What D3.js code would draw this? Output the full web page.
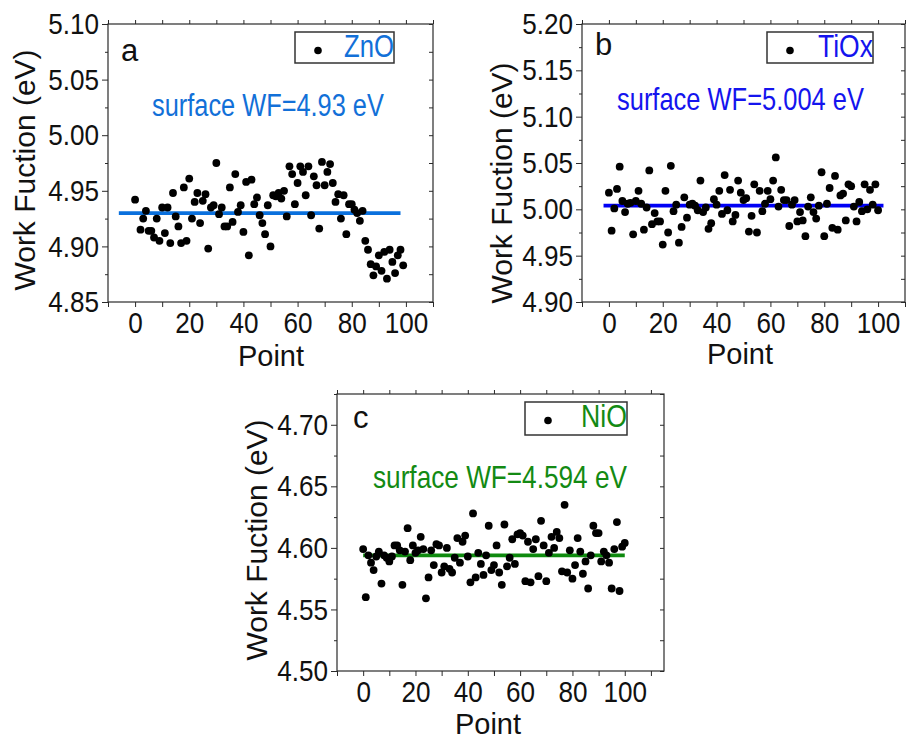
<!DOCTYPE html>
<html>
<head>
<meta charset="utf-8">
<script src="https://cdn.jsdelivr.net/npm/d3@7/dist/d3.min.js"></script>
<style>
  html, body { margin: 0; padding: 0; background: #fff; }
  svg { display: block; }
  text { font-family: "Liberation Sans", Arial, Helvetica, sans-serif; }
</style>
</head>
<body>
<svg id="fig" width="906" height="740"></svg>
<script>
// Work function maps: one reading per measurement point
// ZnO (point 1 not recorded)
const znoWF = [4.942, null, 4.915, 4.925, 4.932, 4.914, 4.914, 4.908, 4.925, 4.905,
  4.935, 4.912, 4.935, 4.903, 4.948, 4.927, 4.918, 4.903, 4.953, 4.905,
  4.961, 4.925, 4.940, 4.948, 4.921, 4.941, 4.947, 4.898, 4.935, 4.937,
  4.975, 4.929, 4.935, 4.918, 4.918, 4.953, 4.922, 4.965, 4.931, 4.937,
  4.913, 4.958, 4.892, 4.960, 4.938, 4.944, 4.928, 4.921, 4.911, 4.937,
  4.900, 4.946, 4.945, 4.948, 4.943, 4.950, 4.927, 4.972, 4.965, 4.938,
  4.957, 4.972, 4.967, 4.946, 4.972, 4.928, 4.963, 4.955, 4.916, 4.976,
  4.955, 4.967, 4.974, 4.957, 4.940, 4.947, 4.925, 4.946, 4.911, 4.938,
  4.938, 4.933, 4.930, 4.923, 4.932, 4.905, 4.897, 4.884, 4.874, 4.882,
  4.892, 4.878, 4.895, 4.871, 4.897, 4.886, 4.876, 4.892, 4.897, 4.883];

const tioxWF = [5.018, 4.977, 5.001, 5.022, 5.046, 5.009, 4.997, 5.006, 5.007, 4.973,
  5.009, 5.020, 5.006, 4.978, 5.002, 5.042, 4.984, 4.996, 4.987, 4.987,
  4.962, 5.020, 4.975, 5.047, 4.998, 5.005, 4.964, 4.981, 5.013, 4.991,
  5.005, 5.006, 5.004, 4.999, 5.031, 4.997, 5.002, 4.979, 4.985, 5.011,
  5.005, 5.020, 4.995, 5.037, 4.999, 5.021, 4.987, 4.994, 5.031, 5.018,
  5.010, 5.012, 4.976, 4.993, 5.027, 4.975, 5.020, 4.998, 5.006, 5.020,
  5.011, 5.031, 5.056, 5.003, 5.021, 5.010, 5.010, 4.982, 5.005, 5.010,
  4.987, 4.997, 4.988, 4.971, 5.003, 5.013, 4.997, 4.990, 5.004, 5.040,
  4.971, 5.006, 5.023, 4.980, 5.036, 4.978, 5.015, 5.017, 4.988, 5.027,
  5.025, 5.003, 4.987, 5.008, 4.998, 5.027, 5.000, 5.021, 5.005, 5.027,
  4.999];

const nioWF = [4.599, 4.560, 4.594, 4.588, 4.582, 4.593, 4.597, 4.571, 4.594, 4.592,
  4.589, 4.593, 4.602, 4.602, 4.598, 4.570, 4.597, 4.616, 4.590, 4.602,
  4.596, 4.598, 4.609, 4.599, 4.559, 4.576, 4.598, 4.586, 4.603, 4.602,
  4.580, 4.585, 4.600, 4.583, 4.580, 4.592, 4.608, 4.588, 4.605, 4.610,
  4.593, 4.572, 4.628, 4.576, 4.596, 4.587, 4.578, 4.594, 4.618, 4.582,
  4.586, 4.602, 4.580, 4.570, 4.619, 4.585, 4.592, 4.607, 4.587, 4.611,
  4.612, 4.610, 4.573, 4.605, 4.572, 4.599, 4.607, 4.577, 4.622, 4.602,
  4.573, 4.596, 4.609, 4.600, 4.613, 4.608, 4.581, 4.635, 4.580, 4.598,
  4.575, 4.586, 4.608, 4.597, 4.579, 4.589, 4.567, 4.594, 4.618, 4.612,
  4.612, 4.589, 4.597, 4.594, 4.588, 4.567, 4.599, 4.621, 4.565, 4.601,
  4.604];

// Mean surface work function of each film (eV)
const surfaceWF = { ZnO: 4.93, TiOx: 5.004, NiO: 4.594 };
// Extent (in point numbers) of the mean lines
const meanSpanZnO = [-6, 98];
const meanSpanTiOx = [-2, 102];
const meanSpanNiO = [0, 100];

// Axis tick values
const xLabelTicks = [0, 20, 40, 60, 80, 100];
const yTicksZnO = [4.85, 4.90, 4.95, 5.00, 5.05, 5.10];
const yTicksTiOx = [4.90, 4.95, 5.00, 5.05, 5.10, 5.15, 5.20];
const yTicksNiO = [4.50, 4.55, 4.60, 4.65, 4.70];

const svg = d3.select("#fig");
svg.append("rect").attr("width", 906).attr("height", 740).attr("fill", "#fff");

// squeeze axis labels horizontally about their anchor point
function condense(sel, k) {
  sel.each(function () {
    const t = d3.select(this);
    const x0 = +t.attr("x") || 0;
    const y0 = +t.attr("y") || 0;
    t.attr("x", 0).attr("y", 0)
      .attr("transform", `translate(${x0},${y0}) scale(${k},1)`);
  });
}

// place a text so that its left or right end sits at x and it spans width w
function fitText(parent, str, x, y, w, size, color, anchorEnd) {
  const t = parent.append("text")
    .attr("font-size", size).attr("fill", color)
    .attr("text-anchor", anchorEnd ? "end" : "start")
    .text(str);
  const nat = t.node().getComputedTextLength();
  t.attr("transform", `translate(${x},${y}) scale(${w / nat},1)`);
  return t;
}

function panel(cfg) {
  const g = svg.append("g");
  const x = d3.scaleLinear().domain(cfg.xDomain).range([cfg.left, cfg.right]);
  const y = d3.scaleLinear().domain(cfg.yDomain).range([cfg.bottom, cfg.top]);
  const axisColor = "#2a2a2a";

  const xAll = d3.range(cfg.xDomain[0], cfg.xDomain[1] + 0.01, 10);
  const yMajor = cfg.yTicks;
  const yMinor = d3.range(cfg.yDomain[0], cfg.yDomain[1] + 1e-6, 0.025)
    .map(v => +v.toFixed(3))
    .filter(v => !yMajor.some(m => Math.abs(m - v) < 1e-6));

  // bottom axis
  const gb = g.append("g").attr("transform", `translate(0,${cfg.bottom})`)
    .call(d3.axisBottom(x).tickValues(xAll).tickSize(5).tickPadding(4)
      .tickFormat(d => xLabelTicks.includes(d) ? d3.format("d")(d) : ""));
  // top axis (mirror)
  const gt = g.append("g").attr("transform", `translate(0,${cfg.top})`)
    .call(d3.axisTop(x).tickValues(xAll).tickSize(4).tickFormat(""));
  // left axis
  const gl = g.append("g").attr("transform", `translate(${cfg.left},0)`)
    .call(d3.axisLeft(y).tickValues(yMajor).tickSize(6).tickPadding(3).tickFormat(d3.format(".2f")));
  const glm = g.append("g").attr("transform", `translate(${cfg.left},0)`)
    .call(d3.axisLeft(y).tickValues(yMinor).tickSize(3).tickFormat(""));
  // right axis (mirror, ticks inside)
  const gr = g.append("g").attr("transform", `translate(${cfg.right},0)`)
    .call(d3.axisLeft(y).tickValues(yMajor.concat(yMinor)).tickSize(-4).tickFormat(""))
    .call(a => a.selectAll(".tick line").attr("x2", -4));

  [gb, gt, gl, glm, gr].forEach(a => {
    a.select(".domain").remove();
    a.selectAll(".tick line").attr("stroke", axisColor).attr("stroke-width", 1);
    a.selectAll("text").attr("fill", "#111").attr("font-size", 30)
      .attr("font-family", '"Liberation Sans", Arial, sans-serif');
  });
  gb.selectAll("text").attr("dy", "0.72em").attr("y", 9);
  condense(gb.selectAll("text"), 0.87);
  condense(gl.selectAll("text"), 0.87);

  // frame
  g.append("rect")
    .attr("x", cfg.left).attr("y", cfg.top)
    .attr("width", cfg.right - cfg.left).attr("height", cfg.bottom - cfg.top)
    .attr("fill", "none").attr("stroke", axisColor).attr("stroke-width", 1.2);

  // axis titles
  g.append("text")
    .attr("transform", `translate(${cfg.yTitleX},${cfg.yTitleY}) rotate(-90)`)
    .attr("text-anchor", "middle").attr("font-size", 30).attr("fill", "#111")
    .text("Work Fuction (eV)");
  g.append("text")
    .attr("x", cfg.xTitleX).attr("y", cfg.xTitleY)
    .attr("text-anchor", "middle").attr("font-size", 29).attr("fill", "#111")
    .text("Point");

  // panel letter
  g.append("text")
    .attr("x", cfg.letterX).attr("y", cfg.letterY)
    .attr("font-size", 31).attr("fill", "#111")
    .text(cfg.letter);

  // mean line
  g.append("line")
    .attr("x1", x(cfg.span[0])).attr("x2", x(cfg.span[1]))
    .attr("y1", y(cfg.mean)).attr("y2", y(cfg.mean))
    .attr("stroke", cfg.color).attr("stroke-width", 3.8);

  // measurement points
  const pts = cfg.values.map((v, i) => ({ i, v })).filter(d => d.v !== null);
  g.append("g").selectAll("circle").data(pts).join("circle")
    .attr("cx", d => x(d.i)).attr("cy", d => y(d.v)).attr("r", 3.9)
    .attr("fill", "#000");

  // annotation of the mean value
  fitText(g, `surface WF=${cfg.meanLabel} eV`, cfg.noteX, cfg.noteY, cfg.noteW, 31, cfg.textColor, false);

  // legend
  const L = cfg.legend;
  g.append("rect")
    .attr("x", L.x).attr("y", L.y).attr("width", L.w).attr("height", L.h)
    .attr("fill", "#fff").attr("stroke", "#333").attr("stroke-width", 1.5);
  g.append("circle").attr("cx", L.x + 23).attr("cy", L.y + 18.5).attr("r", 3.8).attr("fill", "#000");
  fitText(g, cfg.name, L.x + L.w, L.y + 25, L.tw, 31, cfg.textColor, true);
}

panel({
  name: "ZnO", letter: "a", values: znoWF, mean: surfaceWF.ZnO, meanLabel: "4.93",
  span: meanSpanZnO, yTicks: yTicksZnO,
  xDomain: [-10, 110], yDomain: [4.85, 5.10],
  left: 108, right: 433, top: 24, bottom: 302,
  color: "#0a70dd", textColor: "#1270d8",
  yTitleX: 35, yTitleY: 170, xTitleX: 271, xTitleY: 366,
  letterX: 121, letterY: 61,
  noteX: 152, noteY: 116, noteW: 232,
  legend: { x: 295, y: 32, w: 99, h: 31, tw: 50 }
});

panel({
  name: "TiOx", letter: "b", values: tioxWF, mean: surfaceWF.TiOx, meanLabel: "5.004",
  span: meanSpanTiOx, yTicks: yTicksTiOx,
  xDomain: [-10, 110], yDomain: [4.90, 5.20],
  left: 582, right: 905, top: 24, bottom: 302,
  color: "#0000f5", textColor: "#1414ee",
  yTitleX: 512, yTitleY: 183, xTitleX: 740, xTitleY: 364,
  letterX: 595, letterY: 55,
  noteX: 617, noteY: 110, noteW: 247,
  legend: { x: 767, y: 32, w: 106, h: 31, tw: 55 }
});

panel({
  name: "NiO", letter: "c", values: nioWF, mean: surfaceWF.NiO, meanLabel: "4.594",
  span: meanSpanNiO, yTicks: yTicksNiO,
  xDomain: [-10, 115], yDomain: [4.50, 4.725],
  left: 337, right: 664, top: 394, bottom: 671,
  color: "#0e8a0e", textColor: "#138a13",
  yTitleX: 267, yTitleY: 540, xTitleX: 488, xTitleY: 734,
  letterX: 353, letterY: 428,
  noteX: 373, noteY: 488, noteW: 254,
  legend: { x: 525, y: 402, w: 102, h: 33, tw: 46 }
});
</script>
</body>
</html>
